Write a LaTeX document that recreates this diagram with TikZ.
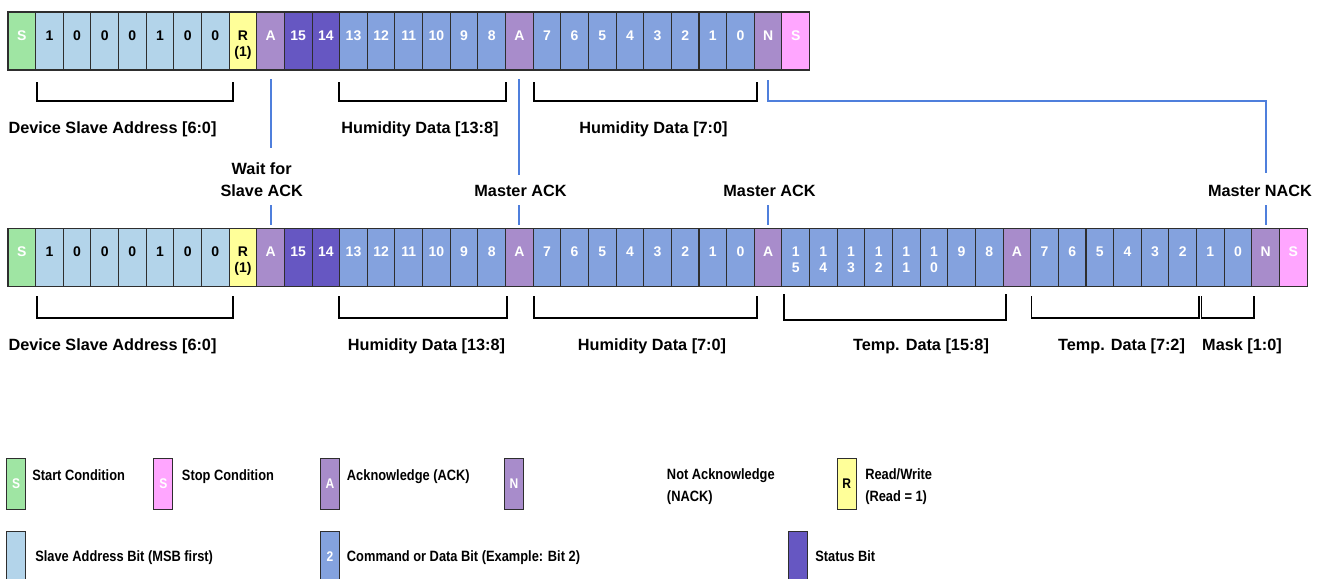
\documentclass[tikz,border=0pt]{standalone}
\usepackage{fontspec}
\setmainfont{Liberation Sans}
\newfontfamily\legendfont{Liberation Sans}[FakeStretch=0.86]
\usepackage{tikz}
\usetikzlibrary{positioning}
\definecolor{SensStart}{HTML}{9FE5A3}
\definecolor{SensAddr}{HTML}{B3D4EA}
\definecolor{SensRead}{HTML}{FFFF99}
\definecolor{SensAck}{HTML}{A88CCB}
\definecolor{SensStatus}{HTML}{6657C2}
\definecolor{SensData}{HTML}{84A2DE}
\definecolor{SensStop}{HTML}{FFA6FF}
\definecolor{SensEdge}{HTML}{2E2E2E}
\definecolor{SensLink}{HTML}{4F7FDC}

\begin{document}
\begin{tikzpicture}[x=0.75pt,y=-0.75pt,
  bitcell/.style={draw=SensEdge,line width=0.8pt,minimum width=20.73pt,minimum height=43.5pt,inner sep=0pt,outer sep=0pt,
    text height=7.5pt,text depth=9pt,align=center,font=\bfseries\fontsize{10.5}{12}\selectfont},
  twoline/.style={text height=22.5pt,text depth=0pt},
  startbit/.style={bitcell,fill=SensStart,text=white},
  addrbit/.style={bitcell,fill=SensAddr,text=black},
  readbit/.style={bitcell,twoline,fill=SensRead,text=black},
  ackbit/.style={bitcell,fill=SensAck,text=white},
  statbit/.style={bitcell,fill=SensStatus,text=white},
  databit/.style={bitcell,fill=SensData,text=white},
  stopbit/.style={bitcell,fill=SensStop,text=white},
  bracketline/.style={draw=black,line width=1.1pt},
  ackline/.style={draw=SensLink,line width=1.4pt},
  note/.style={inner sep=2pt,align=center,anchor=base,font=\bfseries\fontsize{12.2}{16.8}\selectfont},
  legbox/.style={draw=SensEdge,line width=0.8pt,minimum width=14.25pt,minimum height=38.25pt,inner sep=0pt,
    anchor=north west,font=\legendfont\bfseries\fontsize{10.5}{12}\selectfont},
  legtext/.style={inner sep=0pt,anchor=base west,align=left,font=\legendfont\bfseries\fontsize{11.2}{16.3}\selectfont}]
\path[use as bounding box] (0,0) rectangle (1323,578);
\node[startbit,anchor=north west] (t1) at (8,12) {S};
\node[addrbit,right=0pt of t1] (t2) {1};
\node[addrbit,right=0pt of t2] (t3) {0};
\node[addrbit,right=0pt of t3] (t4) {0};
\node[addrbit,right=0pt of t4] (t5) {0};
\node[addrbit,right=0pt of t5] (t6) {1};
\node[addrbit,right=0pt of t6] (t7) {0};
\node[addrbit,right=0pt of t7] (t8) {0};
\node[readbit,right=0pt of t8] (t9) {R\\(1)};
\node[ackbit,right=0pt of t9] (t10) {A};
\node[statbit,right=0pt of t10] (t11) {15};
\node[statbit,right=0pt of t11] (t12) {14};
\node[databit,right=0pt of t12] (t13) {13};
\node[databit,right=0pt of t13] (t14) {12};
\node[databit,right=0pt of t14] (t15) {11};
\node[databit,right=0pt of t15] (t16) {10};
\node[databit,right=0pt of t16] (t17) {9};
\node[databit,right=0pt of t17] (t18) {8};
\node[ackbit,right=0pt of t18] (t19) {A};
\node[databit,right=0pt of t19] (t20) {7};
\node[databit,right=0pt of t20] (t21) {6};
\node[databit,right=0pt of t21] (t22) {5};
\node[databit,right=0pt of t22] (t23) {4};
\node[databit,right=0pt of t23] (t24) {3};
\node[databit,right=0pt of t24] (t25) {2};
\node[databit,right=0pt of t25] (t26) {1};
\node[databit,right=0pt of t26] (t27) {0};
\node[ackbit,right=0pt of t27] (t28) {N};
\node[stopbit,right=0pt of t28] (t29) {S};
\draw[bracketline] (37,82) -- (37,101) -- (233,101) -- (233,82);
\draw[bracketline] (339,82) -- (339,101) -- (506,101) -- (506,82);
\draw[bracketline] (534,82) -- (534,101) -- (757,101) -- (757,82);
\node[note] (tAddrLbl) at (112.5,133.3) {Device Slave Address [6:0]};
\node[note] (tHumHiLbl) at (420,133.3) {Humidity Data [13:8]};
\node[note] (tHumLoLbl) at (653.5,133.3) {Humidity Data [7:0]};
\node[note] (waitLbl) at (261.7,196.7) {Wait for\\Slave ACK};
\node[note] (ackLblA) at (520.5,196.7) {Master ACK};
\node[note] (ackLblB) at (769.5,196.7) {Master ACK};
\node[note] (nackLbl) at (1260,196.7) {Master NACK};
\node[startbit,anchor=north west] (b1) at (8,228.7) {S};
\node[addrbit,right=0pt of b1] (b2) {1};
\node[addrbit,right=0pt of b2] (b3) {0};
\node[addrbit,right=0pt of b3] (b4) {0};
\node[addrbit,right=0pt of b4] (b5) {0};
\node[addrbit,right=0pt of b5] (b6) {1};
\node[addrbit,right=0pt of b6] (b7) {0};
\node[addrbit,right=0pt of b7] (b8) {0};
\node[readbit,right=0pt of b8] (b9) {R\\(1)};
\node[ackbit,right=0pt of b9] (b10) {A};
\node[statbit,right=0pt of b10] (b11) {15};
\node[statbit,right=0pt of b11] (b12) {14};
\node[databit,right=0pt of b12] (b13) {13};
\node[databit,right=0pt of b13] (b14) {12};
\node[databit,right=0pt of b14] (b15) {11};
\node[databit,right=0pt of b15] (b16) {10};
\node[databit,right=0pt of b16] (b17) {9};
\node[databit,right=0pt of b17] (b18) {8};
\node[ackbit,right=0pt of b18] (b19) {A};
\node[databit,right=0pt of b19] (b20) {7};
\node[databit,right=0pt of b20] (b21) {6};
\node[databit,right=0pt of b21] (b22) {5};
\node[databit,right=0pt of b22] (b23) {4};
\node[databit,right=0pt of b23] (b24) {3};
\node[databit,right=0pt of b24] (b25) {2};
\node[databit,right=0pt of b25] (b26) {1};
\node[databit,right=0pt of b26] (b27) {0};
\node[ackbit,right=0pt of b27] (b28) {A};
\node[databit,twoline,right=0pt of b28] (b29) {1\\5};
\node[databit,twoline,right=0pt of b29] (b30) {1\\4};
\node[databit,twoline,right=0pt of b30] (b31) {1\\3};
\node[databit,twoline,right=0pt of b31] (b32) {1\\2};
\node[databit,twoline,right=0pt of b32] (b33) {1\\1};
\node[databit,twoline,right=0pt of b33] (b34) {1\\0};
\node[databit,right=0pt of b34] (b35) {9};
\node[databit,right=0pt of b35] (b36) {8};
\node[ackbit,right=0pt of b36] (b37) {A};
\node[databit,right=0pt of b37] (b38) {7};
\node[databit,right=0pt of b38] (b39) {6};
\node[databit,right=0pt of b39] (b40) {5};
\node[databit,right=0pt of b40] (b41) {4};
\node[databit,right=0pt of b41] (b42) {3};
\node[databit,right=0pt of b42] (b43) {2};
\node[databit,right=0pt of b43] (b44) {1};
\node[databit,right=0pt of b44] (b45) {0};
\node[ackbit,right=0pt of b45] (b46) {N};
\node[stopbit,right=0pt of b46] (b47) {S};
\draw[bracketline] (37,296) -- (37,318) -- (233,318) -- (233,296);
\draw[bracketline] (339,296) -- (339,318) -- (507,318) -- (507,296);
\draw[bracketline] (534,296) -- (534,318) -- (757,318) -- (757,296);
\draw[bracketline] (784,294) -- (784,320) -- (1006,320) -- (1006,294);
\draw[bracketline] (1031.5,296) -- (1031.5,318) -- (1199,318) -- (1199,296);
\draw[bracketline] (1201.5,296) -- (1201.5,318) -- (1254,318) -- (1254,296);
\node[note] (bAddrLbl) at (112.5,350.5) {Device Slave Address [6:0]};
\node[note] (bHumHiLbl) at (426.5,350.5) {Humidity Data [13:8]};
\node[note] (bHumLoLbl) at (652,350.5) {Humidity Data [7:0]};
\node[note] (bTempHiLbl) at (921,350.5) {Temp. Data [15:8]};
\node[note] (bTempLoLbl) at (1121.5,350.5) {Temp. Data [7:2]};
\node[note] (bMaskLbl) at (1242,350.5) {Mask [1:0]};
\draw[ackline,shorten <=7pt,shorten >=8.6pt] (t10.south) -- (t10.south |- waitLbl.north);
\draw[ackline,shorten <=4.2pt,shorten >=2.8pt] (b10.north |- waitLbl.south) -- (b10.north);
\draw[ackline,shorten <=7pt,shorten >=5.5pt] (t19.south) -- (t19.south |- ackLblA.north);
\draw[ackline,shorten <=4.2pt,shorten >=2.8pt] (b19.north |- ackLblA.south) -- (b19.north);
\draw[ackline,shorten <=4.2pt,shorten >=2.8pt] (b28.north |- ackLblB.south) -- (b28.north);
\draw[ackline,shorten <=7.5pt,shorten >=7pt] (t28.south) -- ++(0,31) -| (nackLbl.north -| b46.north);
\draw[ackline,shorten <=4.2pt,shorten >=2.8pt] (b46.north |- nackLbl.south) -- (b46.north);
\node[legbox,fill=SensStart,text=white] (lgStart) at (6,458) {S};
\node[legtext] (lgStartTxt) at (32,480) {Start Condition};
\node[legbox,fill=SensStop,text=white] (lgStop) at (153.3,458) {S};
\node[legtext] (lgStopTxt) at (181.7,480) {Stop Condition};
\node[legbox,fill=SensAck,text=white] (lgAck) at (320,458) {A};
\node[legtext] (lgAckTxt) at (346.7,480) {Acknowledge (ACK)};
\node[legbox,fill=SensAck,text=white] (lgNack) at (504,458) {N};
\node[legtext] (lgNackTxt) at (666.7,501.7) {Not Acknowledge\\(NACK)};
\node[legbox,fill=SensRead,text=black] (lgRead) at (836.7,458) {R};
\node[legtext] (lgReadTxt) at (865,501.7) {Read/Write\\(Read = 1)};
\node[legbox,fill=SensAddr] (lgAddr) at (6,530.7) {};
\node[legtext] (lgAddrTxt) at (35,561) {Slave Address Bit (MSB first)};
\node[legbox,fill=SensData,text=white] (lgData) at (320,530.7) {2};
\node[legtext] (lgDataTxt) at (346.7,561) {Command or Data Bit (Example: Bit 2)};
\node[legbox,fill=SensStatus] (lgStat) at (788.3,530.7) {};
\node[legtext] (lgStatTxt) at (815,561) {Status Bit};
\end{tikzpicture}
\end{document}
